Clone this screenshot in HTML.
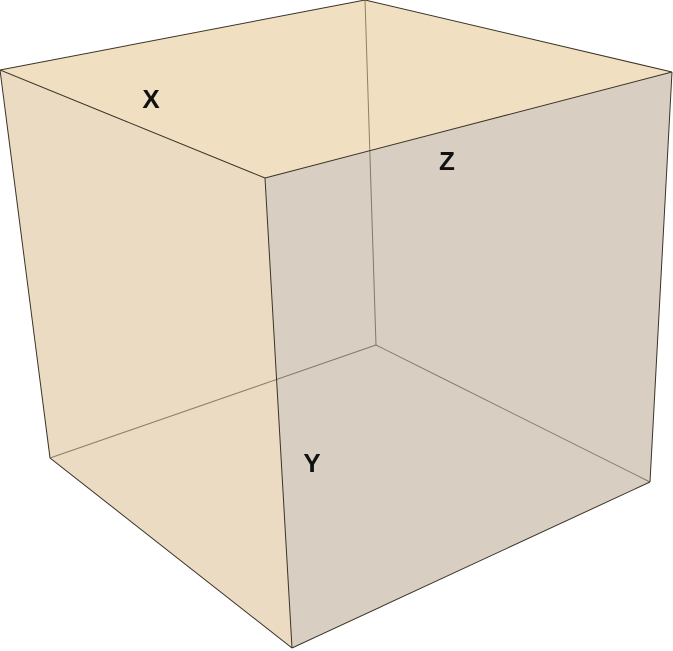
<!DOCTYPE html>
<html><head><meta charset="utf-8"><style>
html,body{margin:0;padding:0;background:#fff;width:673px;height:651px;overflow:hidden}
svg{display:block}
text{font-family:"Liberation Sans",sans-serif;font-weight:bold;font-size:26px;fill:#111}
</style></head><body>
<svg id="cube" width="673" height="651" viewBox="0 0 673 651"></svg>
<script>
// projected cube vertices
const vertices = {
  tl:[0,70], tb:[365,0], tr:[672,72], tf:[265,178],
  bl:[50,458], bb:[376,345], br:[650,482], bf:[292,648]
};
const faces = [
  ["top-face",["tl","tb","tr","tf"],"#f1dfc1"],
  ["left-face",["tl","tf","bf","bl"],"#ebdbc2"],
  ["right-face",["tf","tr","br","bf"],"#d8cfc2"]
];
const backEdges = [["tb","bb"],["bb","bl"],["bb","br"]];
const frontEdges = [["tl","tb"],["tb","tr"],["tr","tf"],["tf","tl"],["tl","bl"],["tf","bf"],["tr","br"],["bl","bf"],["bf","br"]];
const labels = [["x-axis-label","X",151,108],["z-axis-label","Z",447,170],["y-axis-label","Y",312,472]];
const NS="http://www.w3.org/2000/svg";
const svg=document.getElementById('cube');
faces.forEach(f=>{
  const p=document.createElementNS(NS,'polygon');
  p.setAttribute('points',f[1].map(k=>vertices[k].join(',')).join(' '));
  p.setAttribute('fill',f[2]);
  
  
  svg.appendChild(p);
});
function edge(e,stroke,w,name){
  const l=document.createElementNS(NS,'line');
  const a=vertices[e[0]],b=vertices[e[1]];
  l.setAttribute('x1',a[0]);l.setAttribute('y1',a[1]);l.setAttribute('x2',b[0]);l.setAttribute('y2',b[1]);
  l.setAttribute('stroke',stroke);l.setAttribute('stroke-width',w);
  
  
  svg.appendChild(l);
}
backEdges.forEach(e=>edge(e,"rgba(60,50,30,0.55)",1,'back-edge'));
frontEdges.forEach(e=>edge(e,"#3a3326",1,'cube-edge'));
labels.forEach(t=>{
  const x=document.createElementNS(NS,'text');
  x.setAttribute('x',t[2]);x.setAttribute('y',t[3]);x.setAttribute('text-anchor','middle');
  x.textContent=t[1];
  
  
  svg.appendChild(x);
});
</script>
</body></html>
